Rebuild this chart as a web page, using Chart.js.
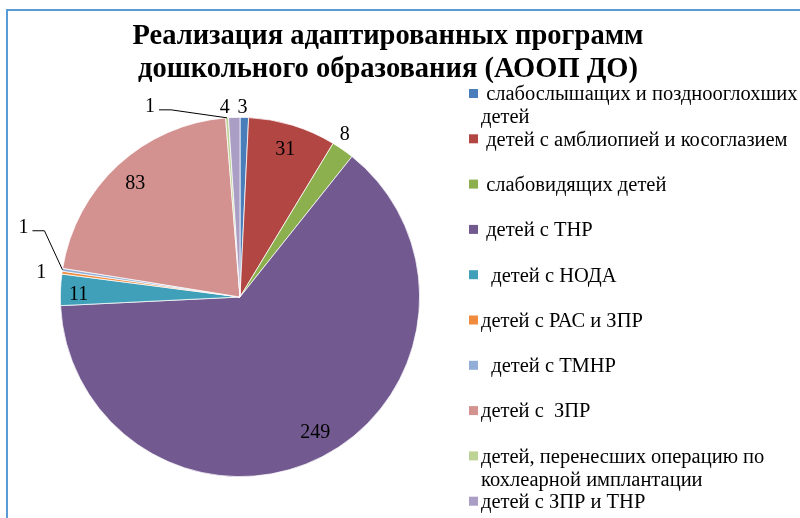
<!DOCTYPE html>
<html>
<head>
<meta charset="utf-8">
<script src="https://cdn.jsdelivr.net/npm/chart.js@4.4.1/dist/chart.umd.min.js"></script>
<style>
  html, body { margin: 0; padding: 0; background: #fff; }
  #wrap { position: relative; width: 800px; height: 518px; overflow: hidden; }
  #frame { position: absolute; left: 6px; top: 9px; width: 900px; height: 600px;
           border-left: 2px solid #5B9BD5; border-top: 2px solid #5B9BD5; }
  canvas { position: absolute; left: 0; top: 0; }
</style>
</head>
<body>
<div id="wrap">
  <div id="frame"></div>
  <canvas id="chart" width="800" height="518"></canvas>
</div>
<script>
var title = ['Реализация адаптированных программ', 'дошкольного образования (АООП ДО)'];

var categories = [
  ' слабослышащих и позднооглохших\nдетей',
  ' детей с амблиопией и косоглазием',
  ' слабовидящих детей',
  ' детей с ТНР',
  '  детей с НОДА',
  'детей с РАС и ЗПР',
  '  детей с ТМНР',
  'детей с  ЗПР',
  'детей, перенесших операцию по\nкохлеарной имплантации',
  'детей с ЗПР и ТНР'
];

var values = [3, 31, 8, 249, 11, 1, 1, 83, 1, 4];

var colors = ['#4A7EBB', '#B24643', '#8DB04F', '#725990', '#41A0B9',
              '#F08A3C', '#93AED6', '#D39190', '#BDD295', '#AA9EC4'];

// small nudges for labels, and leader-line offsets from slice edge
var nudge = { 0: [-2, 2], 2: [-5, -5], 3: [5, -2], 4: [-7, 4], 5: [-9, 2], 9: [-9, 2] };
var leaders = { 6: [-39, -42], 8: [-77, -11] };

var serif = '"Liberation Serif", "Times New Roman", serif';

var decor = {
  id: 'decor',
  afterDraw: function (chart) {
    var ctx = chart.ctx;
    ctx.save();

    // title
    ctx.fillStyle = '#000';
    ctx.font = 'bold 28.5px ' + serif;
    ctx.textAlign = 'center';
    ctx.textBaseline = 'middle';
    title.forEach(function (t, i) {
      ctx.fillText(t, 388, 37 + i * 33);
    });

    // legend
    ctx.font = '20.5px ' + serif;
    ctx.textAlign = 'left';
    categories.forEach(function (c, i) {
      var y = 95 + i * 45.3;
      ctx.fillStyle = colors[i];
      ctx.fillRect(469, y - 6, 9, 9);
      ctx.fillStyle = '#000';
      c.split('\n').forEach(function (line, j) {
        ctx.fillText(line, 481, y + j * 23);
      });
    });

    // data labels
    ctx.font = '20px ' + serif;
    ctx.textAlign = 'center';
    ctx.strokeStyle = '#000';
    ctx.lineWidth = 1;
    var meta = chart.getDatasetMeta(0);
    meta.data.forEach(function (arc, i) {
      var p = arc.getProps(['x', 'y', 'startAngle', 'endAngle', 'outerRadius'], true);
      var mid = (p.startAngle + p.endAngle) / 2;
      var cos = Math.cos(mid), sin = Math.sin(mid);
      var n = nudge[i] || [0, 0];
      var lx, ly;
      if (leaders[i]) {
        var ex = p.x + cos * p.outerRadius, ey = p.y + sin * p.outerRadius;
        lx = ex + leaders[i][0];
        ly = ey + leaders[i][1];
        ctx.beginPath();
        ctx.moveTo(lx + 9, ly + 3);
        ctx.lineTo(lx + 21, ly + 3);
        ctx.lineTo(ex, ey);
        ctx.stroke();
      } else if (values[i] >= 10) {
        lx = p.x + cos * p.outerRadius * 0.86 + n[0];
        ly = p.y + sin * p.outerRadius * 0.86 + n[1];
      } else {
        var r = p.outerRadius + 12;
        lx = p.x + cos * r + n[0];
        ly = p.y + sin * r + n[1];
      }
      ctx.fillText(String(values[i]), lx, ly);
    });

    ctx.restore();
  }
};

new Chart(document.getElementById('chart'), {
  type: 'pie',
  data: {
    labels: categories,
    datasets: [{
      data: values,
      backgroundColor: colors,
      borderColor: '#fff',
      borderWidth: 0.75
    }]
  },
  options: {
    responsive: false,
    animation: false,
    layout: { padding: { left: 60, right: 380, top: 117, bottom: 41 } },
    plugins: {
      legend: { display: false },
      title: { display: false },
      tooltip: { enabled: false }
    }
  },
  plugins: [decor]
});
</script>
</body>
</html>
